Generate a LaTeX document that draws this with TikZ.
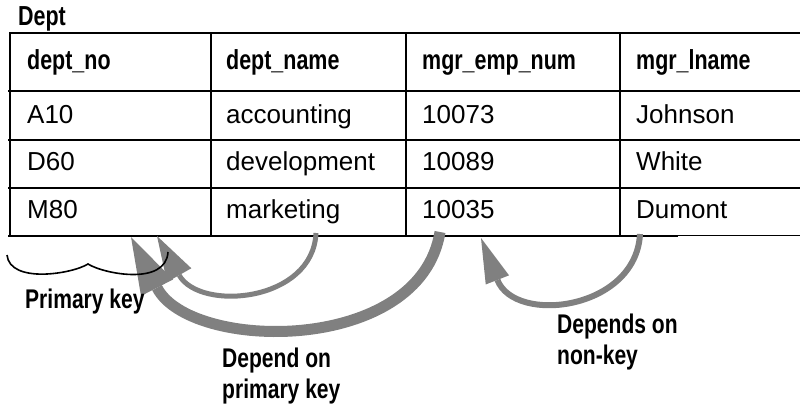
\documentclass[tikz,border=0pt]{standalone}
\usepackage{fontspec}
\setmainfont{Liberation Sans}
\newfontfamily\keyfont[FakeStretch=0.78]{Liberation Sans}
\usetikzlibrary{arrows.meta}
\definecolor{depgray}{RGB}{128,128,128}
\tikzset{
  cell/.style={anchor=base west, inner sep=0pt, font=\fontsize{26}{31}\selectfont},
  head/.style={anchor=base west, inner sep=0pt, font=\keyfont\bfseries\fontsize{27.5}{31}\selectfont},
  note/.style={anchor=base west, inner sep=0pt, align=left, font=\keyfont\bfseries\fontsize{27}{31}\selectfont},
  dep/.style={draw=depgray, line cap=butt},
}

\begin{document}
\begin{tikzpicture}[x=1pt, y=-1pt]
  \useasboundingbox (0,0) rectangle (800,410);

  % table name
  \node[head] (dept) at (18,25) {Dept};

  % grid
  \draw[line width=2pt] (9,33) -- (800,33);
  \draw[line width=2pt] (8,91) -- (800,91);
  \draw[line width=1.3pt] (8,140) -- (800,140);
  \draw[line width=1.3pt] (8,188) -- (800,188);
  \draw[line width=2pt] (8,236) -- (678,236);
  \draw[line width=1pt] (678,235.5) -- (800,235.5);
  \draw[line width=2pt] (10,33) -- (10,236);
  \draw[line width=1.8pt] (211,33) -- (211,236);
  \draw[line width=1.8pt] (406,33) -- (406,236);
  \draw[line width=1.8pt] (620,33) -- (620,236);

  % header row
  \node[head] (no0)    at (27,69)  {dept\_no};
  \node[head] (name0)  at (226,69) {dept\_name};
  \node[head] (mgr0)   at (422,69) {mgr\_emp\_num};
  \node[head] (lname0) at (636,69) {mgr\_lname};

  % rows
  \node[cell] (no1)    at (27,123)  {A10};
  \node[cell] (name1)  at (226,123) {accounting};
  \node[cell] (mgr1)   at (422,123) {10073};
  \node[cell] (lname1) at (636,123) {Johnson};

  \node[cell] (no2)    at (27,170)  {D60};
  \node[cell] (name2)  at (226,170) {development};
  \node[cell] (mgr2)   at (422,170) {10089};
  \node[cell] (lname2) at (636,170) {White};

  \node[cell] (no3)    at (27,218)  {M80};
  \node[cell] (name3)  at (226,218) {marketing};
  \node[cell] (mgr3)   at (422,218) {10035};
  \node[cell] (lname3) at (636,218) {Dumont};

  % ends of the dependency arrows
  \coordinate (nameout) at (316,233);
  \coordinate (mgrout)  at (440,232);
  \coordinate (lnameout) at (640,234);
  \coordinate (noinA)   at (157,236);
  \coordinate (noinB)   at (131,237);
  \coordinate (mgrin)   at (481,238);

  % dependencies
  \draw[dep, line width=5pt, -{Triangle[length=45pt, width=28pt, line width=0pt]}]
    (nameout) .. controls (313,302) and (200,312) .. (noinA);
  \draw[dep, line width=11pt, -{Triangle[length=57pt, width=36pt, line width=0pt]}]
    (mgrout) .. controls (420,355) and (190,352) .. (noinB);
  \draw[dep, line width=6pt, -{Triangle[length=45pt, width=25pt, line width=0pt]}]
    (lnameout) .. controls (636,310) and (515,325) .. (mgrin);

  % primary key brace
  \draw[line width=1.6pt] (7,255) .. controls (10,284) and (72,274) .. (88,264)
    .. controls (104,274) and (166,286) .. (168,252);
  \node[note] (pk) at (25,308) {Primary key};

  \node[note] (dpk) at (222,398) {Depend on\\primary key};
  \node[note] (dnk) at (557,364) {Depends on\\non-key};
\end{tikzpicture}
\end{document}
